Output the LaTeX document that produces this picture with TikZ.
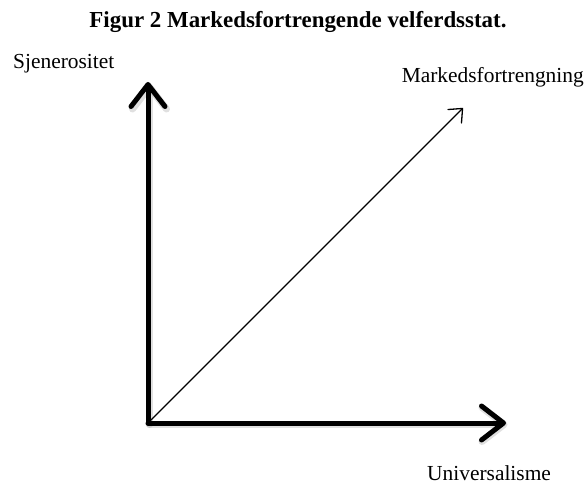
\documentclass[tikz,border=0pt]{standalone}
\usepackage{fontspec}
\setmainfont{Liberation Serif}
\usetikzlibrary{arrows.meta}
\begin{document}
\begin{tikzpicture}[x=1bp,y=-1bp,
  axis/.style={line width=5bp,line cap=round,line join=round,
    -{Straight Barb[length=22bp,width=34bp,line width=5bp,round]}},
  axisshadow/.style={axis,draw=black!35,opacity=0.35,line width=7bp,
    -{Straight Barb[length=22bp,width=34bp,line width=7bp,round]}},
  diag/.style={line width=1.3bp,
    -{Straight Barb[length=11bp,width=19bp,line width=1.3bp,round]}},
  lbl/.style={inner sep=0pt,font=\fontsize{21.5}{24}\selectfont},
  ttl/.style={inner sep=0pt,font=\fontsize{23}{26}\selectfont\bfseries}]
\useasboundingbox (0,0) rectangle (584,486);
\node[ttl] (title) at (298,22) {Figur 2 Markedsfortrengende velferdsstat.};
\coordinate (O) at (148,423);
\coordinate (Ytip) at (148,82);
\coordinate (Xtip) at (506,423);
\coordinate (Dtip) at (463,108);
\coordinate (Os) at (149.5,424.5);
\coordinate (Ys) at (149.5,83.5);
\coordinate (Xs) at (507.5,424.5);
\draw[axisshadow] (Os) -- (Ys);
\draw[axisshadow] (Os) -- (Xs);
\draw[axis] (O) -- (Ytip);
\draw[axis] (O) -- (Xtip);
\draw[diag] (O) -- (Dtip);
\node[lbl,anchor=base west] (gen) at (13,69) {Sjenerositet};
\node[lbl,anchor=base east] (mark) at (584,83) {Markedsfortrengning};
\node[lbl,anchor=base west] (uni) at (427,480) {Universalisme};
\end{tikzpicture}
\end{document}
